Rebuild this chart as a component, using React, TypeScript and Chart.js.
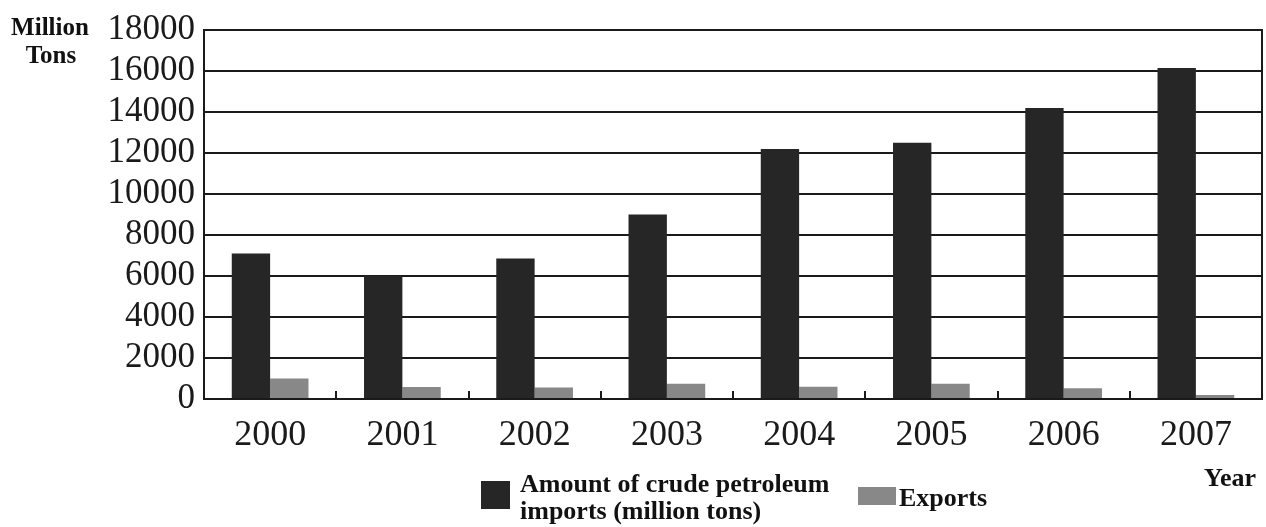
import React, { useEffect, useRef } from "react";
import { Chart, registerables } from "chart.js";

Chart.register(...registerables);

const years = ["2000", "2001", "2002", "2003", "2004", "2005", "2006", "2007"];
const importsData = [7100, 6000, 6850, 9000, 12200, 12500, 14200, 16150];
const exportsData = [1000, 580, 560, 750, 600, 750, 530, 200];
const yMin = 0;
const yMax = 18000;
const yStep = 2000;
const yTitleLines = ["Million", "Tons"];
const xTitle = "Year";
const importsLabel = ["Amount of crude petroleum", "imports (million tons)"];
const exportsLabel = "Exports";

const SERIF = "'Liberation Serif', 'Times New Roman', serif";
const INK = "#1a1a1a";

const decor = {
  id: "decor",
  afterDraw(chart: any) {
    const { ctx, chartArea: a, scales } = chart;
    const x = scales.x;
    ctx.save();
    ctx.strokeStyle = INK;
    ctx.lineWidth = 2;
    ctx.beginPath();
    ctx.moveTo(a.right, a.top - 1);
    ctx.lineTo(a.right, a.bottom + 1);
    ctx.stroke();
    ctx.beginPath();
    for (let i = 0; i < years.length - 1; i++) {
      const px = Math.round((x.getPixelForValue(i) + x.getPixelForValue(i + 1)) / 2);
      ctx.moveTo(px, a.bottom);
      ctx.lineTo(px, a.bottom - 8);
    }
    ctx.stroke();

    ctx.fillStyle = "#111";
    ctx.font = `bold 25px ${SERIF}`;
    ctx.textBaseline = "alphabetic";
    ctx.textAlign = "center";
    ctx.fillText(yTitleLines[0], 50, 35);
    ctx.fillText(yTitleLines[1], 51, 63);

    ctx.font = `bold 26px ${SERIF}`;
    ctx.textAlign = "left";
    ctx.fillText(xTitle, 1204, 486);

    // legend
    ctx.fillStyle = "#262626";
    ctx.fillRect(481, 481, 29, 28);
    ctx.fillStyle = "#111";
    ctx.fillText(importsLabel[0], 520, 492);
    ctx.fillText(importsLabel[1], 520, 519);

    ctx.fillStyle = "#888888";
    ctx.fillRect(858, 487, 38, 18);
    ctx.fillStyle = "#111";
    ctx.fillText(exportsLabel, 899, 506);
    ctx.restore();
  },
};

export default function App() {
  const ref = useRef<HTMLCanvasElement | null>(null);

  useEffect(() => {
    if (!ref.current) return;
    const chart = new Chart(ref.current, {
      type: "bar",
      data: {
        labels: years,
        datasets: [
          {
            label: importsLabel.join(" "),
            data: importsData,
            backgroundColor: "#262626",
            borderWidth: 0,
            categoryPercentage: 0.58,
            barPercentage: 1.0,
          },
          {
            label: exportsLabel,
            data: exportsData,
            backgroundColor: "#888888",
            borderWidth: 0,
            categoryPercentage: 0.58,
            barPercentage: 1.0,
          },
        ],
      },
      options: {
        responsive: false,
        animation: false,
        devicePixelRatio: 1,
        layout: { padding: { top: 26, right: 4, bottom: 0, left: 0 } },
        plugins: {
          legend: { display: false },
          tooltip: { enabled: false },
          title: { display: false },
        },
        scales: {
          x: {
            grid: { display: false, drawTicks: false },
            border: { display: true, color: INK, width: 2 },
            ticks: {
              color: INK,
              font: { family: SERIF, size: 36 },
              padding: 15,
              maxRotation: 0,
              autoSkip: false,
            },
            afterFit: (s: any) => {
              s.height = 128;
            },
          },
          y: {
            min: yMin,
            max: yMax,
            grid: { color: INK, lineWidth: 2, drawTicks: false },
            border: { display: true, color: INK, width: 2 },
            ticks: {
              stepSize: yStep,
              autoSkip: false,
              color: INK,
              font: { family: SERIF, size: 35 },
              padding: 9,
              callback: (v: any) => String(v),
            },
            afterFit: (s: any) => {
              s.width = 204;
            },
          },
        },
      },
      plugins: [decor],
    });
    return () => chart.destroy();
  }, []);

  return (
    <div style={{ position: "fixed", left: 0, top: 0, width: 1266, height: 527, background: "#fff" }}>
      <canvas ref={ref} width={1266} height={527} style={{ display: "block" }} />
    </div>
  );
}
